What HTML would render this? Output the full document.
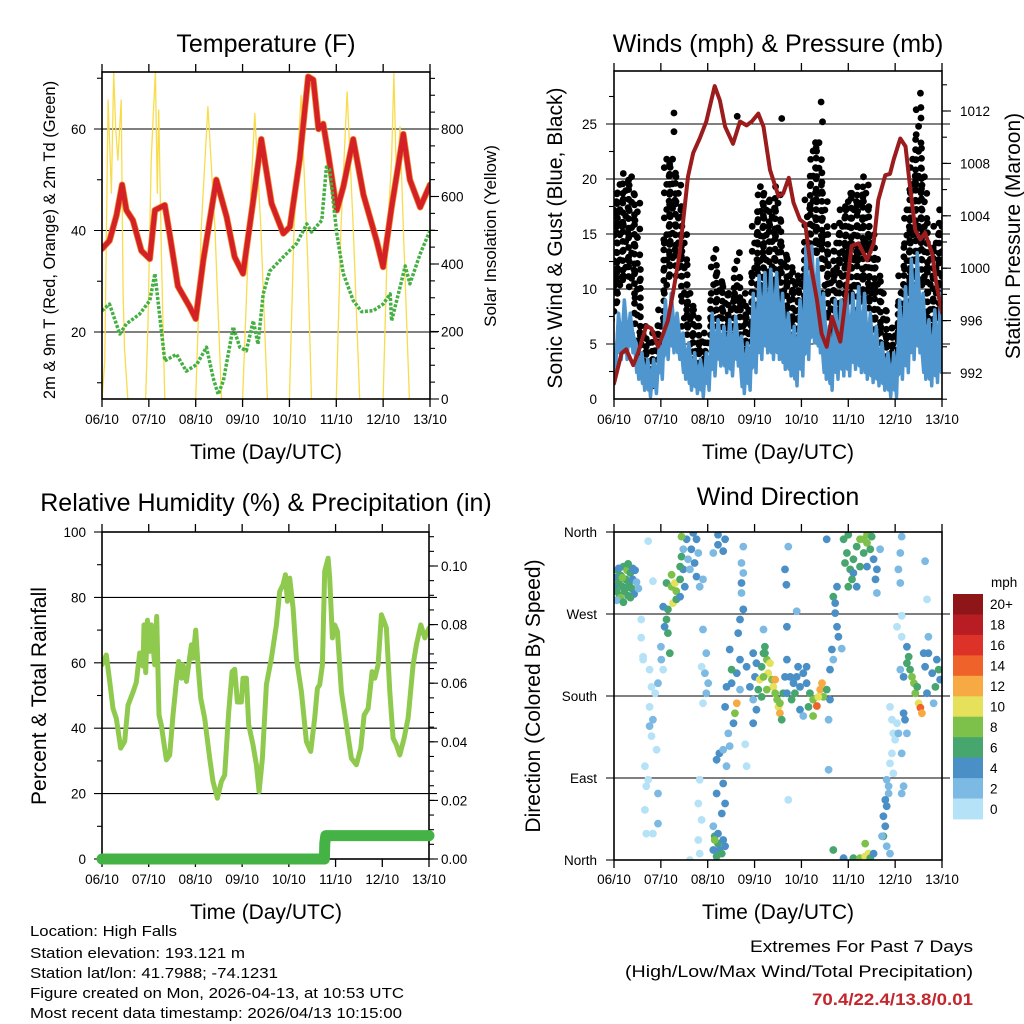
<!DOCTYPE html>
<html><head><meta charset="utf-8"><style>
html,body{margin:0;padding:0;background:#fff}
svg{display:block;font-family:"Liberation Sans",Arial,sans-serif}
</style></head><body>
<svg id="chart" width="1024" height="1024" viewBox="0 0 1024 1024" xmlns="http://www.w3.org/2000/svg">
<defs>
<clipPath id="c1"><rect x="102" y="72" width="328" height="327"/></clipPath>
<clipPath id="c2"><rect x="614" y="71" width="328" height="328"/></clipPath>
<clipPath id="c3"><rect x="102" y="532" width="327" height="327"/></clipPath>
<clipPath id="c4"><rect x="614" y="532" width="328" height="328"/></clipPath>
</defs>
</svg>
<script>
// ---------- DATA ----------
const dayLabels = ["06/10","07/10","08/10","09/10","10/10","11/10","12/10","13/10"];
// Temperature (F)
const tempT = [0,.16,.31,.43,.52,.66,.84,1.02,1.13,1.34,1.45,1.62,1.87,2.0,2.16,2.44,2.66,2.83,3.01,3.23,3.40,3.62,3.87,4.01,4.22,4.40,4.51,4.62,4.72,4.83,5.01,5.15,5.36,5.58,5.86,6.0,6.18,6.43,6.57,6.79,7.0];
const tempV = [36.4,38,43,49,44,42,36,34.4,44,45,39,29,25,22.6,34,50,42.7,34.8,31.5,46,58,45.3,39.4,40.7,54,70.3,69.7,60,61,55,44,48.6,58,47,38,32.8,44.6,59,50,44.6,49];
const dewT = [0,.16,.38,.52,.80,1.02,1.13,1.34,1.59,1.80,2.02,2.23,2.37,2.48,2.59,2.80,2.94,3.08,3.23,3.33,3.44,3.58,3.87,4.15,4.37,4.47,4.69,4.79,4.86,5.01,5.15,5.36,5.54,5.79,6.0,6.15,6.18,6.36,6.47,6.57,6.79,7.0];
const dewV = [24.2,25.5,19.6,21.6,23.5,26.2,31.5,14.3,15.6,12.3,13.6,17,11,7.7,10.4,21,17,16.3,22.2,17.6,27.5,32,34.8,37.4,41.3,39.7,42,52.5,52,39.4,31.5,26.2,24,24.2,25.5,27.5,22.2,28.8,33,29.5,35.4,40];
const solarT = [0,.06,.13,.2,.25,.29,.34,.41,.45,.48,.55, .93,.98,1.05,1.1,1.14,1.18,1.21,1.27,1.34, 2.0,2.12,2.26,2.41,2.55, 3.0,3.14,3.26,3.39,3.53, 4.0,4.1,4.25,4.39,4.47, 5.0,5.1,5.23,5.36,5.5, 6.0,6.1,6.18,6.23,6.29,6.36,6.43,6.56,7.0];
const solarV = [0,115,886,610,970,807,708,886,313,150,0, 0,214,708,856,970,610,856,412,0, 0,510,866,510,0, 0,510,846,510,0, 0,510,900,412,0, 0,510,910,510,0, 0,510,708,965,610,807,510,0,0];
// Winds (mph), 3-hourly
const gustHi = [18.7,19.5,20.5,20.2,17.8,6.6,5.1,6.0, 8.1,21.8,21.8,20.2,15.7,9.6,8.1,6.0, 5.1,13.6,11.5,10.2,9.6,13.3,9.6,8.1, 15.7,19.3,18.7,18.1,19.3,13.9,12.7,11.2, 11.2,18.1,23.3,23.3,18.7,12.1,15.7,17.2, 18.7,18.7,19.3,20.2,15.7,12.7,9.6,7.2, 6.6,11.2,17.2,21.8,26.3,20.2,12.7,15.7,17.2];
const gustLo = [7.2,9.6,11.2,10.2,4.5,2.7,1.8,1.2, 3.6,9.6,12.1,11.2,6.6,4.2,3.6,2.1, 2.1,7.2,6.6,5.7,5.1,5.1,3.6,3.0, 6.6,9.6,9.6,9.0,8.1,6.6,6.0,4.8, 5.1,11.2,12.7,13.3,9.6,5.1,6.6,8.1, 8.1,9.6,8.1,9.0,6.6,5.1,4.2,2.7, 2.4,4.2,7.2,9.6,12.7,8.1,5.1,6.6,8.1];
const windHi = [5.0,7.8,9.0,7.8,5.1,4.2,3.6,3.6, 5.1,9.0,9.6,7.8,6.0,5.1,4.2,3.6, 4.2,7.8,7.2,6.6,7.2,7.5,5.7,5.1, 9.6,11.2,11.5,11.8,11.5,9.6,7.8,6.6, 9.0,13.9,13.9,12.7,9.6,6.6,9.0,9.0, 9.6,9.6,10.2,9.6,7.8,6.6,5.1,4.2, 4.2,9.0,10.2,12.7,13.3,9.6,7.2,8.1,9.6];
const windLo = [2.4,3.6,3.6,4.2,1.8,0.8,0.2,0.5, 1.8,3.6,4.2,3.6,1.8,0.8,0.5,0.2, 0.8,2.1,3.0,2.4,2.1,3.0,0.5,0.8, 2.4,3.6,4.2,3.6,3.6,2.7,2.1,1.2, 2.1,3.6,5.1,4.2,1.8,0.8,1.8,2.1, 2.1,2.7,2.4,1.8,1.5,1.2,0.8,0.2, 0.2,1.8,2.4,3.6,4.2,1.8,1.2,1.5,1.8];
const gustPeakT = [1.28,1.28,4.42,6.54,3.58,2.63,6.55,4.45];
const gustPeakV = [26,24.3,27,27.8,25.5,25.7,26.5,25.2];
const presT = [0,.16,.26,.41,.51,.69,.80,.94,1.05,1.15,1.26,1.40,1.58,1.69,1.83,1.97,2.15,2.26,2.37,2.54,2.69,2.83,2.94,3.08,3.19,3.33,3.51,3.61,3.73,3.83,3.97,4.08,4.18,4.33,4.43,4.54,4.65,4.83,4.93,5.07,5.22,5.40,5.54,5.64,5.79,5.89,5.97,6.11,6.22,6.32,6.43,6.54,6.64,6.79,6.89,7.0];
const presV = [991.2,993.5,993.8,992.6,993.5,995.6,995.4,994,995,996,998.1,1001.1,1007,1008.8,1009.9,1011.2,1013.9,1012.8,1010.8,1009.5,1011.2,1010.9,1011.2,1011.8,1010.8,1007.5,1005.5,1005.7,1006.9,1005,1003.7,1003.4,1000.6,997.6,995,994,996.3,994.4,997.3,1001.7,1001.9,1000.6,1001.9,1005.2,1007.1,1007.2,1008.3,1009.9,1009.3,1006.2,1002.9,1002.2,1002.7,1001.1,998.6,996.6];
// Relative humidity
const rhT = [0,.093,.164,.236,.307,.40,.485,.557,.664,.735,.807,.878,.899,.935,.971,1.021,1.056,1.128,1.171,1.221,1.27,1.32,1.378,1.449,1.52,1.592,1.642,1.699,1.734,1.806,1.913,1.949,2.006,2.056,2.113,2.198,2.305,2.377,2.47,2.555,2.627,2.712,2.784,2.841,2.898,2.984,3.019,3.091,3.141,3.233,3.305,3.362,3.433,3.519,3.626,3.733,3.804,3.876,3.926,3.969,4.019,4.09,4.161,4.268,4.376,4.468,4.554,4.611,4.661,4.718,4.768,4.839,4.875,4.932,4.982,5.039,5.125,5.232,5.339,5.446,5.539,5.61,5.696,5.782,5.839,5.91,5.981,6.039,6.089,6.16,6.231,6.303,6.374,6.467,6.552,6.66,6.731,6.824,6.91,7.0];
const rhV = [59.4,62.4,54.3,46,43,33.9,36,47,51,54,63,59,71.6,57,73,63.5,71.6,59.4,74.2,44,41,35.9,30.3,31.8,44,54.3,60.4,55.3,59.4,54.3,65.5,61.4,70,59.4,49.2,43,30.8,23.7,18.6,23.7,25.7,45,57.3,58,48,48,55.3,55.3,41,34.9,28.8,20.6,30.8,53.3,61.4,71.6,81.8,83.9,86.9,78.8,85.9,76.7,61.4,51.2,35.9,32.9,43.1,52.2,53.3,59.4,88,92,85.9,67.6,71.6,69.6,51.2,41,30.8,28.8,33.9,44,46,57.3,55.3,59.4,74.7,72.6,70.6,51.2,36.9,34.9,31.8,36.9,43.1,59.4,65.5,71.6,67.6,70.6];
const precT = [0,4.76,4.77,4.79,7.0];
const precV = [0,0,0.0054,0.008,0.008];
// Wind direction (day, degrees, mph)
const dirT = [0.02,0.03,0.05,0.08,0.1,0.12,0.15,0.18,0.2,0.22,0.25,0.28,0.3,0.32,0.35,0.38,0.4,0.43,0.45,0.48,0.52,0.14,0.06,0.4,0.2,0.3,0.1,0.35,0.18,0.25,
 .73,.83,.58,.58,.62,.76,.80,.76,.83,.80,.91,.66,.69,.66,.69,.83,.94,.62,.88,.76,.73,.94,1.0,1.05,.94,
 1.12,1.23,1.3,1.33,1.26,1.41,1.44,1.48,1.15,1.12,1.15,1.19,1.05,1.41,1.23,1.33,1.51,1.08,1.01,1.41,
 1.55,1.65,1.72,1.62,1.76,1.83,1.69,1.8,1.58,1.9,1.76,1.48,
 1.9,1.97,1.94,2.01,1.87,1.97,1.9,1.83,1.8,1.87,1.8,1.62,1.83,
 2.15,2.22,2.25,2.19,2.33,2.3,2.12,2.22,2.15,2.37,2.19,2.33,2.37,2.19,2.25,2.4,2.33,2.3,2.12,
 2.22,2.37,2.33,2.12,2.22,
 2.47,2.51,2.62,2.58,2.55,2.4,2.44,2.37,2.62,2.51,2.69,2.65,2.69,2.47,
 2.72,2.76,2.72,2.76,2.69,2.76,2.72,
 2.83,2.9,2.97,3.01,3.08,3.11,3.15,3.19,3.22,3.26,3.29,3.33,3.37,3.4,3.44,3.26,3.15,3.48,3.51,3.54,3.58,3.61,3.65,3.69,3.04,2.97,3.19,3.44,3.54,3.22,2.97,3.04,
 3.76,3.83,3.9,3.97,4.04,4.11,4.18,4.25,4.33,4.4,4.44,4.47,4.54,4.61,3.79,3.86,3.69,3.97,4.04,4.15,4.25,4.36,4.11,3.93,4.58,4.58,
 4.68,4.72,4.76,4.79,4.65,4.68,4.61,4.72,4.76,4.86,
 4.9,4.97,5.04,5.11,5.18,5.25,5.33,5.4,5.47,5.54,5.61,5.0,5.08,5.18,5.33,5.4,5.5,5.11,5.25,5.4,5.58,5.61,4.93,5.0,5.68,
 4.68,4.9,5.11,5.25,5.36,5.43,5.47,5.36,5.54,
 5.89,5.93,5.96,5.93,5.89,5.82,5.86,5.82,5.75,5.79,5.75,5.82,5.89,5.86,5.96,6.0,6.04,5.79,5.72,
 6.11,6.14,6.07,6.11,6.14,6.04,6.14,
 6.11,6.18,6.25,6.29,6.32,6.36,6.4,6.43,6.5,6.54,6.57,6.47,6.64,6.71,6.79,6.86,6.93,6.96,6.82,6.68,6.18,6.21,6.25,6.14,6.18,6.14,6.71,6.61,6.25,6.89,6.07,
 3.65,3.68,3.72,3.9,3.69,3.19,6.64,6.68,3.72,2.8,2.83,4.54,1.44];
const dirD = [300,310,295,318,305,290,312,300,322,295,308,318,290,303,315,298,308,292,318,305,298,288,285,320,283,325,320,288,310,298,
 350,306,264,244,220,209,190,168,154,136,121,103,81,55,29,29,40,223,183,147,88,73,234,209,194,
 304,300,304,295,282,308,333,319,275,264,249,227,278,322,313,286,300,256,220,289,
 352,341,326,319,311,300,359,337,330,308,352,341,
 253,227,205,194,212,183,172,88,62,44,22,0,7,
 26,18,11,4,22,7,11,29,22,15,73,84,62,110,117,103,121,51,37,
 357,352,339,337,346,
 231,194,172,161,150,190,139,168,205,209,220,249,187,125,
 326,315,293,275,264,344,304,
 212,190,176,201,187,198,212,227,234,220,205,216,198,190,198,187,179,176,168,161,154,183,201,220,216,227,201,183,172,227,150,165,
 201,194,201,190,205,194,183,176,169,187,194,179,187,176,176,183,183,165,158,168,158,179,212,212,154,99,
 289,271,256,245,231,220,209,282,300,232,
 352,337,319,330,344,352,337,348,341,330,319,300,308,300,352,357,355,315,322,322,308,293,326,357,341,
 11,2,2,2,4,7,2,18,7,
 168,154,139,117,106,88,73,59,48,37,26,15,7,81,95,132,150,66,26,
 337,355,319,304,268,256,245,
 209,201,216,223,209,201,194,183,172,167,161,190,212,227,205,190,209,198,172,183,161,154,139,117,81,73,245,227,234,220,139,
 319,302,344,273,256,253,328,286,66,127,103,352,355];
const dirS = [4,5,6,6,7,6,7,6,7,7,6,8,6,6,6,6,5,4,4,3,3,8,3,5,7,6,4,7,8,6,
 1,1,1,1,1,1,1,1,2,1,1,1,1,1,1,1,2,1,1,2,1,2,2,1,2,
 7,8,10,9,10,7,6,5,6,6,6,6,4,6,8,7,5,4,2,4,
 4,4,4,3,4,3,4,3,2,2,4,3,
 2,2,2,3,1,2,1,1,1,1,1,1,0,
 6,6,5,6,4,6,5,4,8,5,4,4,4,4,4,2,3,4,3,
 4,4,4,3,4,
 4,4,12,8,4,4,3,4,5,6,4,4,3,3,
 2,2,3,4,4,2,4,
 4,4,3,5,6,10,6,6,6,8,11,10,8,10,12,8,7,8,10,12,7,6,4,4,4,4,9,9,9,7,4,4,
 4,4,5,4,4,4,6,8,14,12,12,9,6,4,6,6,5,4,3,7,8,10,4,4,3,2,
 6,5,5,4,4,3,4,4,4,2,
 6,7,6,6,7,8,7,8,6,5,4,6,6,4,8,8,6,5,6,4,4,3,6,7,3,
 6,4,6,8,10,10,6,8,5,
 1,1,1,1,1,3,3,4,4,5,6,3,2,2,1,1,1,4,2,
 2,3,2,2,1,1,1,
 3,4,6,7,6,9,9,8,10,14,12,7,4,4,4,6,6,5,3,4,4,4,3,2,3,2,3,4,5,4,2,
 4,4,2,2,4,3,3,1,1,1,1,4,8];
const cbLabels = ["20+","18","16","14","12","10","8","6","4","2","0"];
const cbColors = ["#8e1619","#b81d24","#dc3227","#ef6229","#f7a943","#e6e15a","#7dc14a","#47a56e","#4a8fc6","#7cb9e3","#b5e2f7"];

// ---------- HELPERS ----------
const NS="http://www.w3.org/2000/svg";
const svg=document.getElementById('chart');
function mk(tag,attrs,parent){const e=document.createElementNS(NS,tag);for(const k in attrs)e.setAttribute(k,attrs[k]);(parent||svg).appendChild(e);return e;}
function lin(d0,d1,r0,r1){return v=>r0+(v-d0)*(r1-r0)/(d1-d0);}
function txt(x,y,s,size,anchor,parent,extra){const t=mk('text',Object.assign({x:x,y:y,'font-size':size,'text-anchor':anchor||'middle',fill:'#000'},extra||{}),parent);t.textContent=s;return t;}
const TS=13.5, AT=21;
function panel(name){
  const g=mk('g',{});
  
  
  return g;
}
function frame(g,x0,x1,y0,y1){
  const r=mk('rect',{x:x0,y:y0,width:x1-x0,height:y1-y0,fill:'none',stroke:'#000','stroke-width':1.6},g);
  
  
}
function xAxis(g,X,y0,y1,labY){
  for(let i=0;i<dayLabels.length;i++){
    const x=X(i);
    mk('line',{x1:x,x2:x,y1:y0-8,y2:y0,stroke:'#000','stroke-width':1.3},g);
    mk('line',{x1:x,x2:x,y1:y1,y2:y1+8,stroke:'#000','stroke-width':1.3},g);
    const t=txt(x,labY,dayLabels[i],TS,'middle',g);
    
    
  }
}
function hgrid(g,Y,vals,x0,x1){
  vals.forEach(v=>{const y=Y(v);const l=mk('line',{x1:x0-8,x2:x1+8,y1:y,y2:y,stroke:'#000','stroke-width':1.1},g);
    
    });
}
function ticks(g,Y,vals,x,dir,len){
  vals.forEach(v=>{const y=Y(v);mk('line',{x1:x,x2:x+dir*len,y1:y,y2:y,stroke:'#000','stroke-width':1.1},g);});
}
function poly(g,xs,ys,X,Y,attrs){
  const pts=xs.map((t,i)=>X(t).toFixed(1)+','+Y(ys[i]).toFixed(1)).join(' ');
  return mk('polyline',Object.assign({points:pts,fill:'none','stroke-linejoin':'round','stroke-linecap':'round'},attrs),g);
}
function range(a,b,s){const r=[];for(let v=a;v<=b+1e-9;v+=s)r.push(+v.toFixed(4));return r;}

// ---------- PANEL 1: TEMPERATURE ----------
{
const x0=102,x1=430,y0=72,y1=399;
const g=panel('temperature-panel');
const X=lin(0,7,x0,x1), Y=lin(20,60,332,129), YS=lin(0,800,399,129);
const t=txt(266,52,'Temperature (F)',25,'middle',g);  
hgrid(g,Y,[20,40,60],x0,x1);
ticks(g,Y,[10,30,50,70],x0,-1,5);
ticks(g,YS,range(50,950,50),x1,1,5);
ticks(g,YS,[0,200,400,600,800],x1,1,9);
const pg=mk('g',{'clip-path':'url(#c1)'},g);
const s=poly(pg,solarT,solarV,X,YS,{stroke:'#f8dc4c','stroke-width':1.3});
 
const o=poly(pg,tempT,tempV,X,Y,{stroke:'#f08a2a','stroke-width':6.5});
 
const r=poly(pg,tempT,tempV,X,Y,{stroke:'#d42127','stroke-width':5});
 
const d=poly(pg,dewT,dewV,X,Y,{stroke:'#44b043','stroke-width':3.5,'stroke-dasharray':'3 1.6','stroke-linecap':'butt'});
 
frame(g,x0,x1,y0,y1);
xAxis(g,X,y0,y1,424);
[20,40,60].forEach(v=>{const l=txt(86,Y(v)+5,String(v),TS,'end',g);  });
[0,200,400,600,800].forEach(v=>{const l=txt(441,YS(v)+5,String(v),TS,'start',g);  });
const a=txt(55,240,'2m & 9m T (Red, Orange) & 2m Td (Green)',16.5,'middle',g,{transform:'rotate(-90 55 240)'});  
const b=txt(496,236,'Solar Insolation (Yellow)',17,'middle',g,{transform:'rotate(-90 496 236)'});  
const c=txt(266,459,'Time (Day/UTC)',AT,'middle',g);  
}

// ---------- PANEL 2: WINDS & PRESSURE ----------
{
const x0=614,x1=942,y0=71,y1=399;
const g=panel('winds-pressure-panel');
const X=lin(0,7,x0,x1), Y=lin(0,25,399,124), YP=lin(992,1012,373,111);
const t=txt(778,52,'Winds (mph) & Pressure (mb)',25,'middle',g);  
hgrid(g,Y,[5,10,15,20,25],x0,x1);
ticks(g,Y,[2.5,7.5,12.5,17.5,22.5,27.5],x0,-1,5);
ticks(g,YP,range(990,1014,2),x1,1,5);
ticks(g,YP,[992,996,1000,1004,1008,1012],x1,1,9);
const pg=mk('g',{'clip-path':'url(#c2)'},g);
const dt=1/8;
const gg=mk('g',{fill:'#000'},pg);
 
for(let i=0;i<gustHi.length;i++){
  const n=Math.max(4,Math.round((gustHi[i]-gustLo[i])*1.3));
  for(let k=0;k<=n;k++){
    const v=gustLo[i]+(gustHi[i]-gustLo[i])*k/n;
    const xo=(k%3-1)*2.4;
    const c=mk('circle',{cx:(X(i*dt)+xo).toFixed(1),cy:Y(v).toFixed(1),r:3.4},gg);
     
  }
  if(i<gustHi.length-1){
    const hm=(gustHi[i]+gustHi[i+1])/2, lm=(gustLo[i]+gustLo[i+1])/2;
    const m=Math.max(3,Math.round((hm-lm)*1.0));
    for(let k=0;k<=m;k++){
      const v=lm+(hm-lm)*(k+0.5)/(m+1);
      const c=mk('circle',{cx:X((i+.5)*dt).toFixed(1),cy:Y(v).toFixed(1),r:3.4},gg);
       
    }
  }
}
gustPeakT.forEach((tt,i)=>{const c=mk('circle',{cx:X(tt),cy:Y(gustPeakV[i]),r:3.4},gg);
   });
// sustained wind band
let top=[],bot=[];
for(let i=0;i<windHi.length;i++){
  const mid=windLo[i]+(windHi[i]-windLo[i])*0.45;
  top.push(X(i*dt-0.025).toFixed(1)+','+Y(windHi[i]).toFixed(1));
  top.push(X(i*dt+0.035).toFixed(1)+','+Y(mid).toFixed(1));
  bot.push(X(i*dt-0.02).toFixed(1)+','+Y(windLo[i]+0.6).toFixed(1));
  bot.push(X(i*dt+0.04).toFixed(1)+','+Y(windLo[i]+1.8).toFixed(1));
}
const band=mk('polygon',{points:top.concat(bot.reverse()).join(' '),fill:'#4f96cf',stroke:'#4f96cf','stroke-width':3,'stroke-linejoin':'round'},pg);
 
let pts=[];
for(let i=0;i<windHi.length;i++){
  pts.push(X(i*dt-0.03).toFixed(1)+','+Y(windHi[i]).toFixed(1));
  pts.push(X(i*dt+0.03).toFixed(1)+','+Y(windLo[i]).toFixed(1));
}
const w=mk('polyline',{points:pts.join(' '),fill:'none',stroke:'#4f96cf','stroke-width':3.5,'stroke-linejoin':'round'},pg);
 
const p=poly(pg,presT,presV,X,YP,{stroke:'#9b1c1c','stroke-width':4});
 
frame(g,x0,x1,y0,y1);
xAxis(g,X,y0,y1,424);
[0,5,10,15,20,25].forEach(v=>{const l=txt(597,Y(v)+5,String(v),TS,'end',g);  });
[992,996,1000,1004,1008,1012].forEach(v=>{const l=txt(960,YP(v)+5,String(v),TS,'start',g);  });
const a=txt(562,238,'Sonic Wind & Gust (Blue, Black)',AT,'middle',g,{transform:'rotate(-90 562 238)'});  
const b=txt(1020,236,'Station Pressure (Maroon)',AT,'middle',g,{transform:'rotate(-90 1020 236)'});  
const c=txt(778,459,'Time (Day/UTC)',AT,'middle',g);  
}

// ---------- PANEL 3: RH & PRECIP ----------
{
const x0=102,x1=429,y0=532,y1=859;
const g=panel('humidity-precip-panel');
const X=lin(0,7,x0,x1), Y=lin(0,100,859,532), YR=lin(0,0.1,859,566);
const t=txt(266,511,'Relative Humidity (%) & Precipitation (in)',25,'middle',g);  
hgrid(g,Y,[20,40,60,80],x0,x1);
ticks(g,Y,[0,100],x0,-1,8);
ticks(g,Y,[10,30,50,70,90],x0,-1,5);
ticks(g,YR,range(0,0.11,0.005),x1,1,5);
ticks(g,YR,[0,0.02,0.04,0.06,0.08,0.1],x1,1,9);
const pg=mk('g',{'clip-path':'url(#c3)'},g);
const r=poly(pg,rhT,rhV,X,Y,{stroke:'#8fca4e','stroke-width':5});
 
const pr=poly(svg,precT,precV,X,YR,{stroke:'#44b244','stroke-width':11});
 
frame(g,x0,x1,y0,y1);
xAxis(g,X,y0,y1,884);
[0,20,40,60,80,100].forEach(v=>{const l=txt(86,Y(v)+5,String(v),TS,'end',g);  });
[0,0.02,0.04,0.06,0.08,0.1].forEach(v=>{const l=txt(441,YR(v)+5,v.toFixed(2),TS,'start',g);  });
const a=txt(46,696,'Percent & Total Rainfall',AT,'middle',g,{transform:'rotate(-90 46 696)'});  
const c=txt(266,919,'Time (Day/UTC)',AT,'middle',g);  
}

// ---------- PANEL 4: WIND DIRECTION ----------
{
const x0=614,x1=942,y0=532,y1=860;
const g=panel('wind-direction-panel');
const X=lin(0,7,x0,x1), Y=lin(0,360,860,532);
const t=txt(778,505,'Wind Direction',25,'middle',g);  
hgrid(g,Y,[90,180,270],x0,x1);
ticks(g,Y,[0,360],x0,-1,8);
const pg=mk('g',{'clip-path':'url(#c4)'},g);
for(let i=0;i<dirT.length;i++){
  const idx=Math.min(10,Math.floor(dirS[i]/2+0.49));
  const c=mk('circle',{cx:X(dirT[i]).toFixed(1),cy:Y(dirD[i]).toFixed(1),r:3.9,fill:cbColors[10-idx]},pg);
   
}
frame(g,x0,x1,y0,y1);
xAxis(g,X,y0,y1,884);
const dl=["North","East","South","West","North"];
[0,90,180,270,360].forEach((v,i)=>{const l=txt(597,Y(v)+5,dl[i],TS,'end',g);  });
const a=txt(540,696,'Direction (Colored By Speed)',AT,'middle',g,{transform:'rotate(-90 540 696)'});  
const c=txt(778,919,'Time (Day/UTC)',AT,'middle',g);  
// colorbar
const cb=mk('g',{},g);
 
const bh=(819-594)/11;
cbColors.forEach((col,i)=>{
  const rr=mk('rect',{x:953,y:(594+i*bh).toFixed(1),width:30,height:(bh+0.4).toFixed(1),fill:col},cb);
   
  const l=txt(990,594+i*bh+bh/2+5,cbLabels[i],TS,'start',cb);  
});
const m=txt(991,587,'mph',TS,'start',cb);  
}

// ---------- FOOTER TEXT ----------
{
const g=mk('g',{});


const lines=["Location: High Falls","Station elevation: 193.121 m","Station lat/lon: 41.7988; -74.1231","Figure created on Mon, 2026-04-13, at 10:53 UTC","Most recent data timestamp: 2026/04/13 10:15:00"];
const ys=[936,958,978,998,1018];
const lens=[147,215,248,374,372];
lines.forEach((s,i)=>{const t=txt(30,ys[i],s,15,'start',g,{textLength:lens[i],lengthAdjust:'spacingAndGlyphs'});  });
const e=mk('g',{});


const t1=txt(973,952,'Extremes For Past 7 Days',17,'end',e,{textLength:223,lengthAdjust:'spacingAndGlyphs'});  
const t2=txt(973,977,'(High/Low/Max Wind/Total Precipitation)',17,'end',e,{textLength:348,lengthAdjust:'spacingAndGlyphs'});  
const t3=txt(973,1005,'70.4/22.4/13.8/0.01',17,'end',e,{fill:'#c4262d','font-weight':'bold',textLength:161,lengthAdjust:'spacingAndGlyphs'});  
}
</script>
</body></html>
